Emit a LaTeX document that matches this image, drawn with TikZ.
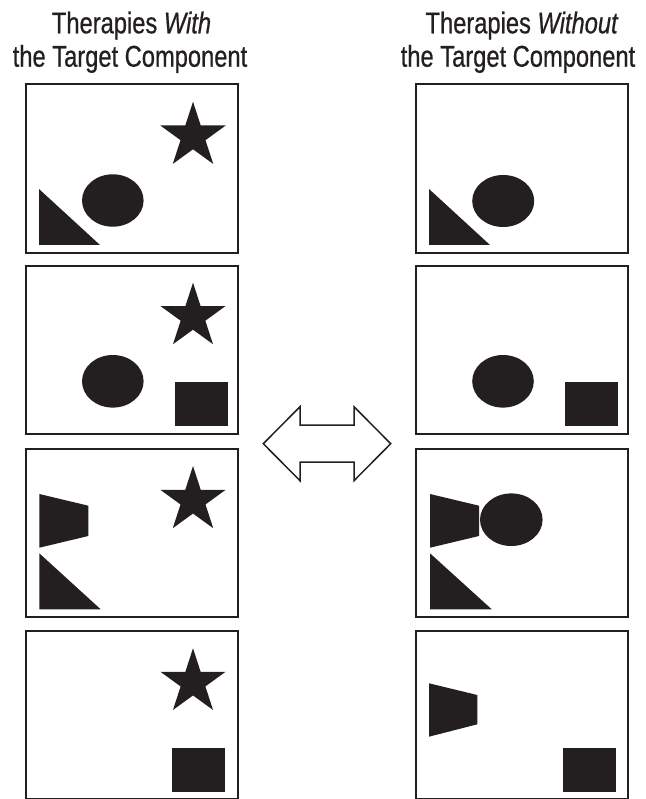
\documentclass[tikz,border=0pt]{standalone}
\usepackage{fontspec}
\setmainfont{Liberation Sans}[FakeStretch=0.79,FakeBold=0.6]
\usetikzlibrary{calc}
\definecolor{ink}{HTML}{231F20}
\begin{document}
\begin{tikzpicture}[x=1pt,y=-1pt,
  panel/.style={draw=ink,line width=1.8pt,fill=white},
  blob/.style={fill=ink},
  title/.style={font=\fontsize{30}{33.4}\selectfont,anchor=base,inner sep=0pt,text=ink},
  arrowshape/.style={draw=ink,line width=1.5pt,fill=white,line join=miter}]
\useasboundingbox (0,0) rectangle (645,799);
\fill[white] (0,0) rectangle (645,799);
% titles
\node[title] (tl1) at (131.5,33.3) {Therapies \textit{With}};
\node[title] (tl2) at (130,66.7) {the Target Component};
\node[title] (tr1) at (522,33.3) {Therapies \textit{Without}};
\node[title] (tr2) at (518,66.7) {the Target Component};
% panels
\foreach \x in {26,416}{
  \draw[panel] (\x,84) rectangle ++(212,169);
  \draw[panel] (\x,266) rectangle ++(212,168);
  \draw[panel] (\x,449) rectangle ++(212,168);
  \draw[panel] (\x,631) rectangle ++(212,168);
}
% stars (left column)
\foreach \cy/\R in {136.1/34.4,316.7/34,500.4/34.4,682.4/34.1}{
  \fill[blob] ($(193,\cy)+(270:\R)$)
    \foreach \i in {0,...,4}{ -- ($(193,\cy)+({270+72*\i}:\R)$) -- ($(193,\cy)+({306+72*\i}:{0.382*\R})$) } -- cycle;
}
% panel 1
\fill[blob] (112.8,200.5) ellipse [x radius=30.8,y radius=26.2];
\fill[blob] (39,189) -- (39,245) -- (100,245) -- cycle;
\fill[blob] (503.2,201) ellipse [x radius=31,y radius=26];
\fill[blob] (429,189) -- (429,245) -- (490,245) -- cycle;
% panel 2
\fill[blob] (112.8,381.3) ellipse [x radius=30.8,y radius=26.3];
\fill[blob] (175,381.7) rectangle (228.3,425.7);
\fill[blob] (503,381.3) ellipse [x radius=30.8,y radius=26.3];
\fill[blob] (565,381.7) rectangle (618.3,425.7);
% panel 3
\fill[blob] (39.3,494) -- (88.3,505.7) -- (88.3,536) -- (39.3,547.7) -- cycle;
\fill[blob] (39.3,553.3) -- (39.3,609.3) -- (100.7,609.3) -- cycle;
\fill[blob] (430,494) -- (479,505.7) -- (479,536) -- (430,547.7) -- cycle;
\fill[blob] (511.3,519.7) ellipse [x radius=31.3,y radius=26.3];
\fill[blob] (430,553.3) -- (430,609.3) -- (491.7,609.3) -- cycle;
% panel 4
\fill[blob] (172,747.7) rectangle (224.7,791.7);
\fill[blob] (429,683.3) -- (477.3,695) -- (477.3,724.3) -- (429,736.7) -- cycle;
\fill[blob] (563,747.7) rectangle (616,791.7);
% double arrow
\draw[arrowshape] (263.3,443.7) -- (300,406.7) -- (300,425) -- (354,425) -- (354,406.7)
  -- (390.7,443.7) -- (354,480.7) -- (354,462) -- (300,462) -- (300,480.7) -- cycle;
\end{tikzpicture}
\end{document}
